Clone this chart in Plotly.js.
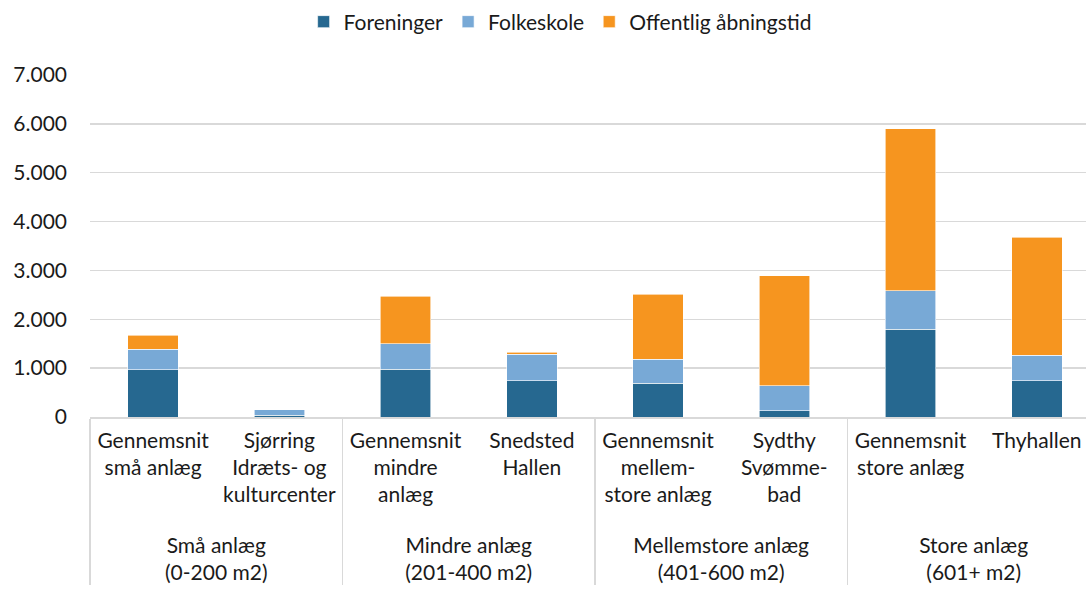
<!DOCTYPE html>
<html>
<head>
<meta charset="utf-8">
<script src="https://cdn.plot.ly/plotly-3.0.1.min.js"></script>
<style>html,body{margin:0;padding:0;background:#fff;overflow:hidden}#chart{width:1086px;height:594px}</style>
</head>
<body>
<div id="chart"></div>
<script>
const groups = [
  "\u00a0<br>Små anlæg<br>(0-200 m2)", "\u00a0<br>Små anlæg<br>(0-200 m2)",
  "\u00a0<br>Mindre anlæg<br>(201-400 m2)", "\u00a0<br>Mindre anlæg<br>(201-400 m2)",
  "\u00a0<br>Mellemstore anlæg<br>(401-600 m2)", "\u00a0<br>Mellemstore anlæg<br>(401-600 m2)",
  "\u00a0<br>Store anlæg<br>(601+ m2)", "\u00a0<br>Store anlæg<br>(601+ m2)"
];
const categories = [
  "Gennemsnit<br>små anlæg", "Sjørring<br>Idræts- og<br>kulturcenter",
  "Gennemsnit<br>mindre<br>anlæg", "Snedsted<br>Hallen",
  "Gennemsnit<br>mellem-<br>store anlæg", "Sydthy<br>Svømme-<br>bad",
  "Gennemsnit<br>store anlæg", "Thyhallen"
];
const foreninger = [970, 40, 980, 745, 695, 125, 1800, 745];
const folkeskole = [415, 110, 520, 540, 490, 515, 785, 515];
const offentlig  = [285, 0, 975, 40, 1330, 2255, 3315, 2415];
const seriesNames = ["Foreninger", "Folkeskole", "Offentlig åbningstid"];
const colors = ["#266890", "#78A9D6", "#F6951F"];

const x = [groups, categories];
const vals = [foreninger, folkeskole, offentlig];
const traces = vals.map((v, i) => ({
  type: "bar",
  x: x,
  y: v,
  name: seriesNames[i],
  marker: {color: colors[i], line: {color: "#ffffff", width: 0.6}},
  hoverinfo: "skip"
}));

const font = {family: "Lato, 'Open Sans', sans-serif", size: 21, color: "#1a1a1a"};
const layout = {
  width: 1086, height: 594,
  margin: {l: 90, r: 0, t: 75, b: 177},
  paper_bgcolor: "#ffffff", plot_bgcolor: "#ffffff",
  font: font,
  separators: ",.",
  barmode: "stack",
  bargap: 0.6,
  showlegend: true,
  legend: {
    orientation: "h", x: 0.472, xanchor: "center", y: 1.155, yanchor: "middle",
    font: font, traceorder: "normal", itemwidth: 30
  },
  xaxis: {
    type: "multicategory",
    range: [-0.5, 7.39],
    showline: true, linecolor: "#d9d9d9", linewidth: 1.5,
    showdividers: true, dividercolor: "#d9d9d9", dividerwidth: 1.5,
    tickfont: font, ticks: "", showgrid: false, zeroline: false,
    ticklabelstandoff: 4
  },
  yaxis: {
    range: [0, 7000], dtick: 1000, tickformat: ",d",
    showgrid: true, gridcolor: "#d9d9d9", gridwidth: 1.5,
    zeroline: false, showline: false, ticks: "",
    ticklabelstandoff: 22, tickfont: font
  }
};
Plotly.newPlot("chart", traces, layout, {displayModeBar: false, staticPlot: true});
</script>
</body>
</html>
